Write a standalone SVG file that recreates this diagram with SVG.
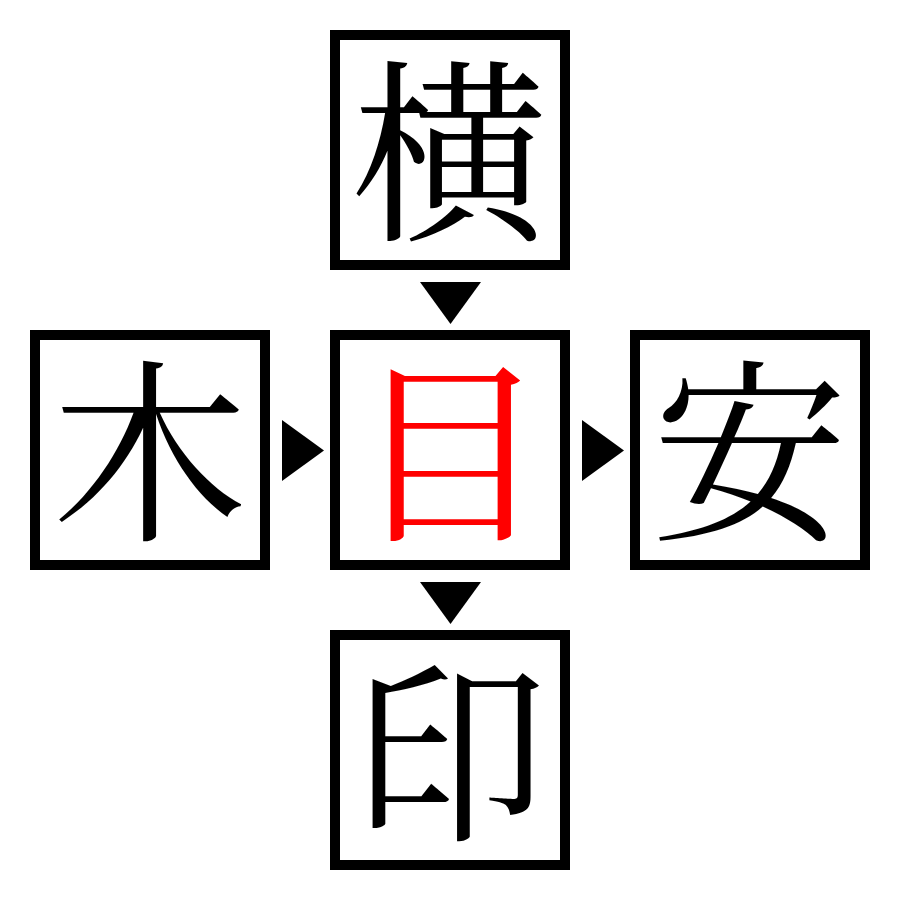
<svg xmlns="http://www.w3.org/2000/svg" width="900" height="900" viewBox="0 0 900 900">
<style>
.box{fill:#fff;stroke:#000;stroke-width:10}
.ch{font-family:"Noto Serif CJK JP","Noto Sans CJK JP",serif;font-size:196px;text-anchor:middle;fill:#000}
.red{fill:#f00}
.arr{fill:#000}
</style>
<rect width="900" height="900" fill="#fff"/>
<g id="node-top"><rect class="box" x="335" y="35" width="230" height="230"/><text class="ch" x="450" y="225">横</text></g>
<g id="node-left"><rect class="box" x="35" y="335" width="230" height="230"/><text class="ch" x="150" y="525">木</text></g>
<g id="node-center"><rect class="box" x="335" y="335" width="230" height="230"/><text class="ch red" x="450" y="525">目</text></g>
<g id="node-right"><rect class="box" x="635" y="335" width="230" height="230"/><text class="ch" x="750" y="525">安</text></g>
<g id="node-bottom"><rect class="box" x="335" y="635" width="230" height="230"/><text class="ch" x="450" y="825">印</text></g>
<g id="connectors">
<polygon class="arr" points="420,282 481,282 450.5,324"/>
<polygon class="arr" points="282,420 282,481 324,450.5"/>
<polygon class="arr" points="582,420 582,481 624,450.5"/>
<polygon class="arr" points="420,582 481,582 450.5,624"/>
</g>
</svg>
